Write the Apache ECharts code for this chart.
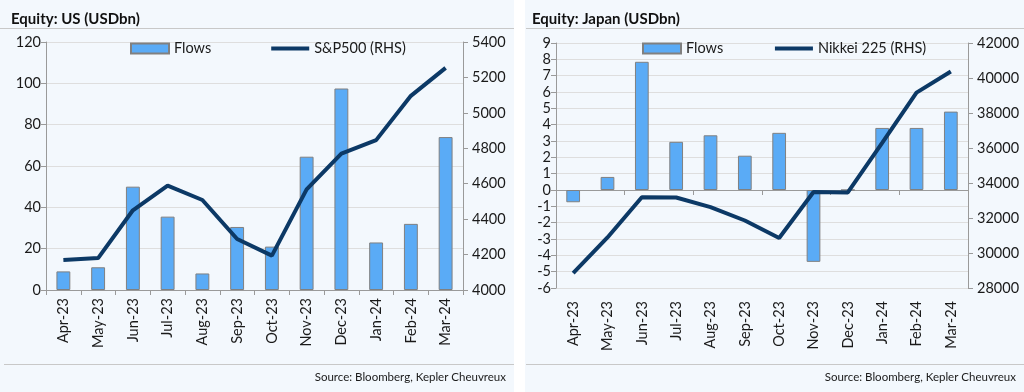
<!DOCTYPE html>
<html><head><meta charset="utf-8">
<script src="https://cdn.jsdelivr.net/npm/echarts@6/dist/echarts.min.js"></script>
<style>html,body{margin:0;padding:0;background:#fff}#c{width:1024px;height:392px}</style>
</head><body><div id="c"></div>
<script>
const months = ['Apr-23','May-23','Jun-23','Jul-23','Aug-23','Sep-23','Oct-23','Nov-23','Dec-23','Jan-24','Feb-24','Mar-24'];
const usFlows = [9, 11, 50, 35.5, 8, 30.5, 21, 64.5, 97.5, 23, 32, 74];
const sp500 = [4169, 4180, 4450, 4589, 4508, 4288, 4194, 4568, 4770, 4846, 5096, 5254];
const jpFlows = [-0.75, 0.8, 7.85, 2.95, 3.35, 2.1, 3.5, -4.4, 0, 3.8, 3.8, 4.8];
const nikkei = [28856, 30888, 33189, 33172, 32619, 31857, 30858, 33486, 33464, 36287, 39166, 40369];
const titles = ['Equity: US (USDbn)', 'Equity: Japan (USDbn)'];
const source = 'Source: Bloomberg, Kepler Cheuvreux';

const FONT = 'Lato';
const TXT = '#1a1a1a';
const BAR = '#5aabf6';
const LINE = '#0c3966';
const AX = '#9a9a9a';
const GRIDC = '#dedede';
const LINEICON = 'path://M0,0h38v4h-38z';

const chart = echarts.init(document.getElementById('c'), null, {renderer:'canvas'});

function yAxisLeft(grid, min, max, interval) {
  return {type:'value', gridIndex:grid, position:'left', min, max, interval,
    axisLine:{show:true, lineStyle:{color:AX}}, axisTick:{show:true, length:5, lineStyle:{color:AX}},
    axisLabel:{color:TXT, fontFamily:FONT, fontSize:14.5, margin:5, formatter:v => String(v)},
    splitLine:{show:true, lineStyle:{color:GRIDC}}};
}
function yAxisRight(grid, min, max, interval) {
  return {type:'value', gridIndex:grid, position:'right', min, max, interval,
    axisLine:{show:true, lineStyle:{color:AX}}, axisTick:{show:true, length:5, lineStyle:{color:AX}},
    axisLabel:{color:TXT, fontFamily:FONT, fontSize:14.5, margin:9, formatter:v => String(v)},
    splitLine:{show:false}};
}

const option = {
  animation:false,
  backgroundColor:'#ffffff',
  graphic:[
    {type:'rect', shape:{x:0,y:0,width:514,height:392}, style:{fill:'#f3f8fd'}, z:-10},
    {type:'rect', shape:{x:525,y:0,width:499,height:392}, style:{fill:'#f3f8fd'}, z:-10},
    {type:'line', shape:{x1:0,y1:28.5,x2:514,y2:28.5}, style:{stroke:'#c8c8c8', lineWidth:1}, z:-5},
    {type:'line', shape:{x1:526,y1:28.5,x2:1024,y2:28.5}, style:{stroke:'#c8c8c8', lineWidth:1}, z:-5},
    {type:'line', shape:{x1:4,y1:364.5,x2:514,y2:364.5}, style:{stroke:'#c8c8c8', lineWidth:1}, z:-5},
    {type:'line', shape:{x1:526,y1:364.5,x2:1024,y2:364.5}, style:{stroke:'#c8c8c8', lineWidth:1}, z:-5}
  ],
  title:[
    {text:titles[0], left:6, top:7, textStyle:{fontFamily:FONT, fontWeight:'bold', fontSize:15, color:'#111'}},
    {text:titles[1], left:527, top:7, textStyle:{fontFamily:FONT, fontWeight:'bold', fontSize:15, color:'#111'}},
    {text:source, right:1024-511, top:366, textStyle:{fontFamily:FONT, fontWeight:'normal', fontSize:11.5, color:TXT}},
    {text:source, right:3, top:366, textStyle:{fontFamily:FONT, fontWeight:'normal', fontSize:11.5, color:TXT}}
  ],
  legend:[
    {left:125, top:36, itemWidth:38, itemHeight:10, itemGap:60,
     textStyle:{fontFamily:FONT, fontSize:14.5, color:TXT},
     data:[{name:'Flows', icon:'rect'}, {name:'S&P500 (RHS)', icon:LINEICON}]},
    {left:637, top:36, itemWidth:38, itemHeight:10, itemGap:48,
     textStyle:{fontFamily:FONT, fontSize:14.5, color:TXT},
     data:[{name:'Flows ', icon:'rect'}, {name:'Nikkei 225 (RHS)', icon:LINEICON}]}
  ],
  grid:[
    {left:46, right:1024-463, top:42, bottom:392-290},
    {left:556, right:1024-968, top:43, bottom:392-288}
  ],
  xAxis:[
    {type:'category', gridIndex:0, data:months, boundaryGap:true,
     axisLine:{show:true, lineStyle:{color:AX}}, axisTick:{show:true, length:5, lineStyle:{color:AX}},
     axisLabel:{rotate:90, color:TXT, fontFamily:FONT, fontSize:14.5, margin:8}},
    {type:'category', gridIndex:1, data:months, boundaryGap:true, position:'bottom',
     axisLine:{show:true, onZero:true, onZeroAxisIndex:2, lineStyle:{color:AX}},
     axisTick:{show:true, length:5, lineStyle:{color:AX}},
     axisLabel:{show:false}},
    {type:'category', gridIndex:1, data:months, boundaryGap:true, position:'bottom',
     axisLine:{show:false, onZero:false}, axisTick:{show:false},
     axisLabel:{rotate:90, color:TXT, fontFamily:FONT, fontSize:14.5, margin:13}}
  ],
  yAxis:[
    yAxisLeft(0, 0, 120, 20),
    yAxisRight(0, 4000, 5400, 200),
    yAxisLeft(1, -6, 9, 1),
    yAxisRight(1, 28000, 42000, 2000)
  ],
  series:[
    {name:'Flows', type:'bar', xAxisIndex:0, yAxisIndex:0, data:usFlows, barWidth:'40%',
     itemStyle:{color:BAR, borderColor:'#808080', borderWidth:1}},
    {name:'S&P500 (RHS)', type:'line', xAxisIndex:0, yAxisIndex:1, data:sp500, symbol:'none',
     lineStyle:{color:LINE, width:4}, itemStyle:{color:LINE}, z:5},
    {name:'Flows ', type:'bar', xAxisIndex:1, yAxisIndex:2, data:jpFlows, barWidth:'40%',
     itemStyle:{color:BAR, borderColor:'#808080', borderWidth:1}},
    {name:'Nikkei 225 (RHS)', type:'line', xAxisIndex:1, yAxisIndex:3, data:nikkei, symbol:'none',
     lineStyle:{color:LINE, width:4}, itemStyle:{color:LINE}, z:5}
  ]
};
chart.setOption(option);
</script></body></html>
